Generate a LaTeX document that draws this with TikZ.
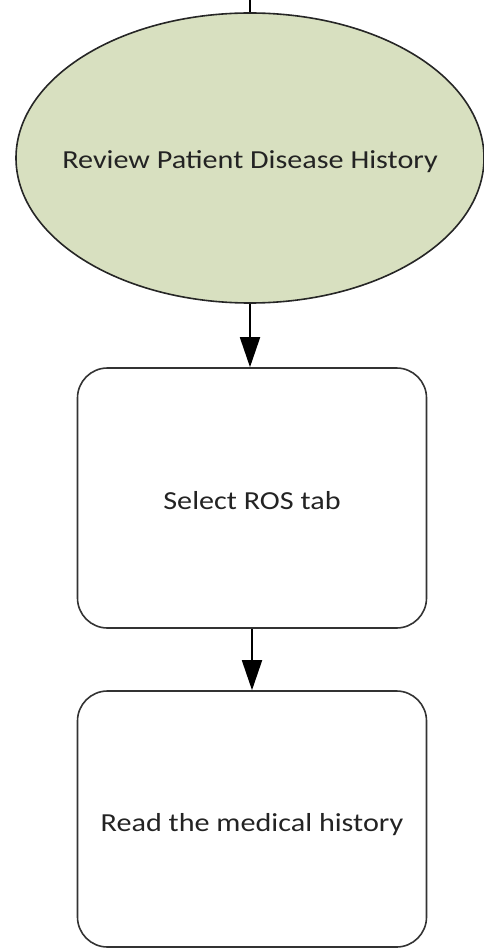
\documentclass[tikz,border=0pt]{standalone}
\usepackage{fontspec}
\setmainfont{Carlito}
\newfontfamily\lblfont[FakeStretch=1.16]{Carlito}
\usetikzlibrary{shapes.geometric,arrows.meta}
\definecolor{ellfill}{RGB}{216,224,192}
\definecolor{txt}{RGB}{35,35,35}
\tikzset{
  lbl/.style={text=txt, font=\lblfont\fontsize{26}{30}\selectfont},
  ell/.style={ellipse, draw=black!85, line width=1.6pt, fill=ellfill, minimum width=468pt, minimum height=290pt, inner sep=0pt, lbl},
  stepbox/.style={rectangle, rounded corners=30pt, draw=black!80, line width=1.6pt, minimum width=349pt, inner sep=0pt, lbl},
  conn/.style={line width=1.8pt, -{Triangle[length=30pt,width=20pt]}},
}
\begin{document}
\begin{tikzpicture}[x=1pt,y=1pt]
\useasboundingbox (0,0) rectangle (483,-949);
\coordinate (top) at (250,0);
\node[ell] (e) at (250,-158) {\makebox[0pt]{\raisebox{-11pt}[0pt][0pt]{Review Patient Disease History}}};
\node[stepbox, minimum height=260pt] (b1) at (252,-498) {\raisebox{-11pt}[0pt][0pt]{Select ROS tab}};
\node[stepbox, minimum height=256pt] (b2) at (252,-819) {\raisebox{-12pt}[0pt][0pt]{Read the medical history}};
\draw[line width=1.8pt] (top) -- (e.north);
\draw[conn] (e.south) -- (e.south |- b1.north);
\draw[conn] (b1.south) -- (b2.north);
\end{tikzpicture}
\end{document}
